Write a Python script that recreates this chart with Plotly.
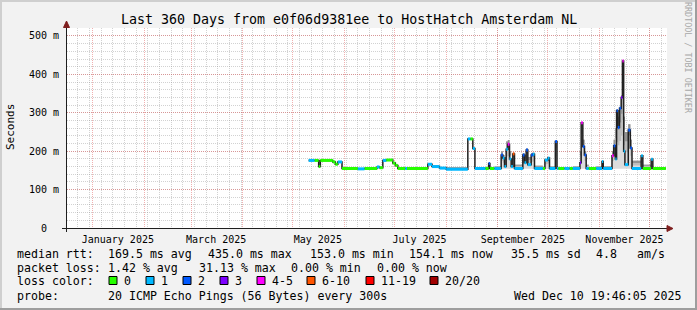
import numpy as np
import plotly.graph_objects as go

# ------------------------------------------------------------------ data
dates = [
    "2025-05-10 12:00", "2025-05-14 00:00", "2025-05-16 12:00", "2025-05-17 12:00",
    "2025-05-25 00:00", "2025-05-26 12:00", "2025-05-28 00:00", "2025-05-30 12:00",
    "2025-06-09 00:00", "2025-06-13 00:00", "2025-06-20 12:00", "2025-06-22 00:00",
    "2025-06-24 00:00", "2025-06-26 00:00", "2025-06-30 00:00", "2025-07-01 12:00",
    "2025-07-03 00:00", "2025-07-07 12:00", "2025-07-08 12:00", "2025-07-21 00:00",
    "2025-07-23 12:00", "2025-07-28 00:00", "2025-08-01 00:00", "2025-08-14 00:00",
    "2025-08-15 12:00", "2025-08-17 00:00", "2025-08-18 06:00", "2025-08-24 12:00",
    "2025-08-26 12:00", "2025-08-27 06:00", "2025-08-30 00:00", "2025-09-03 00:00",
    "2025-09-04 00:00", "2025-09-05 00:00", "2025-09-06 00:00", "2025-09-07 00:00",
    "2025-09-08 00:00", "2025-09-09 00:00", "2025-09-10 00:00", "2025-09-11 00:00",
    "2025-09-16 00:00", "2025-09-17 00:00", "2025-09-18 00:00", "2025-09-19 00:00",
    "2025-09-21 00:00", "2025-09-22 00:00", "2025-09-23 00:00", "2025-09-28 00:00",
    "2025-09-29 06:00", "2025-10-01 00:00", "2025-10-02 00:00", "2025-10-05 12:00",
    "2025-10-06 12:00", "2025-10-07 06:00", "2025-10-11 00:00", "2025-10-14 00:00",
    "2025-10-16 00:00", "2025-10-20 06:00", "2025-10-21 00:00", "2025-10-22 00:00",
    "2025-10-23 00:00", "2025-10-24 00:00", "2025-10-25 12:00", "2025-10-30 00:00",
    "2025-11-02 12:00", "2025-11-03 06:00", "2025-11-08 12:00", "2025-11-09 12:00",
    "2025-11-10 12:00", "2025-11-11 06:00", "2025-11-12 00:00", "2025-11-13 00:00",
    "2025-11-14 00:00", "2025-11-14 18:00", "2025-11-15 12:00", "2025-11-16 06:00",
    "2025-11-18 06:00", "2025-11-19 12:00", "2025-11-20 12:00", "2025-11-26 00:00",
    "2025-11-27 00:00", "2025-12-02 00:00", "2025-12-03 00:00", "2025-12-08 00:00",
    "2025-12-10 19:46",
]

median_ms = [
    176, 176, 160, 176, 172, 166, 172, 155, 154, 155, 159, 157, 176, 177, 169, 163,
    155, 155, 155, 166, 160, 156, 153, 232, 232, 207, 155, 155, 168, 155, 155, 190,
    182, 160, 205, 218, 180, 160, 193, 155, 190, 170, 203, 165, 190, 192, 155, 155,
    177, 182, 155, 225, 155, 155, 155, 155, 155, 170, 274, 212, 190, 155, 155, 155,
    173, 155, 188, 214, 180, 305, 262, 312, 340, 435, 200, 165, 255, 208, 155, 188,
    155, 179, 155, 155, 155,
]

loss_class = [
    1, 0, 0, 0, 0, 0, 1, 0, 1, 0, 1, 0, 1, 0, 0, 0,
    0, 1, 0, 1, 1, 1, 1, 1, 0, 1, 1, 0, 2, 0, 1, 2,
    1, 1, 1, 4, 1, 1, 5, 1, 2, 1, 2, 1, 2, 1, 1, 0,
    1, 1, 1, 2, 1, 0, 1, 0, 1, 3, 4, 2, 2, 1, 0, 1,
    1, 1, 4, 2, 1, 2, 2, 2, 3, 4, 1, 1, 2, 2, 1, 1,
    0, 1, 0, 0, 0,
]

smoke_lo = [
    174, 174, 158, 174, 170, 164, 170, 153, 152, 153, 157, 155, 174, 175, 167, 161,
    153, 153, 153, 164, 158, 154, 151, 229, 229, 204, 153, 153, 154, 153, 153, 154,
    154, 154, 154, 154, 154, 154, 154, 153, 154, 154, 154, 154, 154, 154, 153, 153,
    154, 154, 153, 154, 153, 153, 153, 153, 153, 154, 154, 154, 154, 153, 153, 153,
    154, 153, 154, 154, 154, 154, 154, 154, 154, 154, 154, 154, 154, 154, 153, 153,
    153, 153, 153, 153, 153,
]

smoke_hi = [
    178, 178, 162, 178, 174, 168, 174, 157, 156, 157, 161, 159, 178, 179, 171, 165,
    157, 157, 157, 168, 162, 158, 158, 234, 234, 209, 158, 157, 170, 157, 160, 200,
    190, 185, 225, 229, 200, 180, 196, 165, 195, 190, 207, 185, 195, 196, 162, 158,
    180, 185, 160, 227, 160, 157, 158, 157, 160, 200, 276, 230, 200, 165, 158, 160,
    175, 160, 200, 230, 260, 310, 290, 315, 345, 437, 290, 250, 270, 230, 175, 190,
    165, 181, 158, 157, 157,
]

loss_labels = ["0", "1", "2", "3", "4-5", "6-10", "11-19", "20/20"]
loss_colors = ["#26ff00", "#00b8ff", "#0059ff", "#7e00ff",
               "#ff00ff", "#ff5500", "#ff0000", "#a10000"]

month_ticks = ["2025-01-01", "2025-02-01", "2025-03-01", "2025-04-01",
               "2025-05-01", "2025-06-01", "2025-07-01", "2025-08-01",
               "2025-09-01", "2025-10-01", "2025-11-01", "2025-12-01"]
month_labels = ["January 2025", "", "March 2025", "", "May 2025", "",
                "July 2025", "", "September 2025", "", "November 2025", ""]

y_ticks = [0, 100, 200, 300, 400, 500]
y_labels = ["0\u00a0\u00a0", "100 m", "200 m", "300 m", "400 m", "500 m"]

title_text = "Last 360 Days from e0f06d9381ee to HostHatch Amsterdam NL"
rtt_head = "median rtt:"
rtt_stats = ["169.5 ms avg", "435.0 ms max", "153.0 ms min", "154.1 ms now",
             "35.5 ms sd", "4.8", "am/s"]
loss_head = "packet loss:"
loss_stats = ["1.42 % avg", "31.13 % max", "0.00 % min", "0.00 % now"]
color_head = "loss color:"
probe_head = "probe:"
probe_text = "20 ICMP Echo Pings (56 Bytes) every 300s"
stamp_text = "Wed Dec 10 19:46:05 2025"
watermark = "RRDTOOL / TOBI OETIKER"

# ------------------------------------------------------------------ layout geometry
W, H = 697, 310
L, R, T, B = 67, 30, 28, 82
PW, PH = W - L - R, H - T - B


def px(x):
    return (x - L) / PW


def py(y):
    return (T + PH - y) / PH


MONO = "DejaVu Sans Mono"
fig = go.Figure()

# smoke (gray shading between min and max of the pings)
lo = np.array(smoke_lo, dtype=float)
hi = np.array(smoke_hi, dtype=float)
for frac, col in [(0.0, "#dcdcdc"), (0.45, "#bdbdbd"), (0.75, "#939393")]:
    base = lo + frac * (hi - lo)
    fig.add_trace(go.Scatter(x=dates, y=base, mode="lines",
                             line=dict(width=0, shape="hv"), hoverinfo="skip"))
    fig.add_trace(go.Scatter(x=dates, y=hi, mode="lines", fill="tonexty",
                             fillcolor=col, line=dict(width=0, shape="hv"),
                             hoverinfo="skip"))

# median line
fig.add_trace(go.Scatter(x=dates, y=median_ms, mode="lines",
                         line=dict(color="#202020", width=1.5, shape="hv")))

# median coloured by loss class
n = len(dates)
for c, col in enumerate(loss_colors):
    xs, ys = [], []
    for i in range(n - 1):
        if loss_class[i] == c:
            xs += [dates[i], dates[i + 1], None]
            ys += [median_ms[i], median_ms[i], None]
    if xs:
        fig.add_trace(go.Scatter(x=xs, y=ys, mode="lines",
                                 line=dict(color=col, width=3)))

grid_major = "rgba(222,80,80,0.45)"
grid_minor = "rgba(143,143,143,0.4)"

fig.update_layout(
    width=W, height=H,
    margin=dict(l=L, r=R, t=T, b=B, autoexpand=False),
    paper_bgcolor="#f2f2f2", plot_bgcolor="#ffffff",
    showlegend=False,
    font=dict(family=MONO, size=10, color="#000000"),
    xaxis=dict(
        type="date",
        range=["2024-12-16 12:00", "2025-12-11 12:00"],
        tickmode="array", tickvals=month_ticks, ticktext=month_labels,
        ticklabelshift=25, ticks="", ticklabelstandoff=2,
        showgrid=True, gridcolor=grid_major, griddash="1px,1px", gridwidth=1,
        minor=dict(tickmode="linear", tick0="2024-12-16", dtick=7 * 86400000,
                   showgrid=True, gridcolor=grid_minor, griddash="1px,1px",
                   ticks=""),
        showline=True, linecolor="#1f1f1f", linewidth=1,
        zeroline=False, fixedrange=True,
        tickfont=dict(family=MONO, size=10),
    ),
    yaxis=dict(
        range=[0, 520.8],
        tickmode="array", tickvals=y_ticks, ticktext=y_labels,
        ticks="", ticklabelstandoff=5,
        showgrid=True, gridcolor=grid_major, griddash="1px,1px", gridwidth=1,
        minor=dict(tickmode="linear", tick0=0, dtick=20, showgrid=True,
                   gridcolor=grid_minor, griddash="1px,1px", ticks=""),
        showline=True, linecolor="#1f1f1f", linewidth=1,
        zeroline=False, fixedrange=True,
        tickfont=dict(family=MONO, size=10),
    ),
)

shapes = []
# frame shading
shapes.append(dict(type="rect", xref="paper", yref="paper", x0=px(0), x1=px(W),
                   y0=py(2), y1=py(0), fillcolor="#cfcfcf", line_width=0, layer="below"))
shapes.append(dict(type="rect", xref="paper", yref="paper", x0=px(0), x1=px(2),
                   y0=py(H), y1=py(0), fillcolor="#cfcfcf", line_width=0, layer="below"))
shapes.append(dict(type="rect", xref="paper", yref="paper", x0=px(0), x1=px(W),
                   y0=py(H), y1=py(H - 2), fillcolor="#9e9e9e", line_width=0, layer="below"))
shapes.append(dict(type="rect", xref="paper", yref="paper", x0=px(W - 2), x1=px(W),
                   y0=py(H), y1=py(0), fillcolor="#9e9e9e", line_width=0, layer="below"))
# axis extensions + arrows
shapes.append(dict(type="line", xref="paper", yref="paper", x0=px(62), x1=px(667),
                   y0=py(228.5), y1=py(228.5), line=dict(color="#1f1f1f", width=1)))
shapes.append(dict(type="line", xref="paper", yref="paper", x0=px(66.5), x1=px(66.5),
                   y0=py(232), y1=py(26), line=dict(color="#1f1f1f", width=1)))
shapes.append(dict(type="path", xref="paper", yref="paper",
                   path=f"M {px(66.5)},{py(21)} L {px(63.5)},{py(27.5)} L {px(69.5)},{py(27.5)} Z",
                   fillcolor="#7f1f1f", line=dict(color="#7f1f1f", width=1)))
shapes.append(dict(type="path", xref="paper", yref="paper",
                   path=f"M {px(673)},{py(228.5)} L {px(667)},{py(225.5)} L {px(667)},{py(231.5)} Z",
                   fillcolor="#7f1f1f", line=dict(color="#7f1f1f", width=1)))

ann = []


def text(s, x, y, size=11.6, **kw):
    d = dict(text=s, xref="paper", yref="paper", x=px(x - 1), y=py(y),
             xanchor="left", yanchor="middle", showarrow=False,
             font=dict(family=MONO, size=size, color="#000000"))
    d.update(kw)
    ann.append(d)


# title, axis title, watermark
ann.append(dict(text=title_text, xref="paper", yref="paper", x=px(348.5), y=py(19),
                xanchor="center", yanchor="middle", showarrow=False,
                font=dict(family=MONO, size=13.3, color="#000000")))
ann.append(dict(text="Seconds", xref="paper", yref="paper", x=px(10), y=py(127),
                xanchor="center", yanchor="middle", showarrow=False, textangle=-90,
                font=dict(family=MONO, size=11, color="#000000")))
ann.append(dict(text=watermark, xref="paper", yref="paper", x=px(688), y=py(58),
                xanchor="center", yanchor="middle", showarrow=False, textangle=90,
                font=dict(family=MONO, size=8.4, color="#a8a8a8")))

# legend rows
row_y = [253.5, 268, 281, 296]
text(rtt_head, 16, row_y[0])
for s, x in zip(rtt_stats, [107, 207, 309, 408, 510, 595, 636]):
    text(s, x, row_y[0])
text(loss_head, 16, row_y[1])
for s, x in zip(loss_stats, [107, 198, 290, 376]):
    text(s, x, row_y[1])
text(color_head, 16, row_y[2])
box_x = [109, 146, 183, 220, 257, 307, 366, 430]
for lab, col, x in zip(loss_labels, loss_colors, box_x):
    shapes.append(dict(type="rect", xref="paper", yref="paper",
                       x0=px(x), x1=px(x + 8), y0=py(284.5), y1=py(276.5),
                       fillcolor=col, line=dict(color="#000000", width=1)))
    text(lab, x + 14, row_y[2])
text(probe_head, 16, row_y[3])
text(probe_text, 107, row_y[3])
text(stamp_text, 513, row_y[3])

fig.update_layout(shapes=shapes, annotations=ann)
fig.write_html("out.html")
